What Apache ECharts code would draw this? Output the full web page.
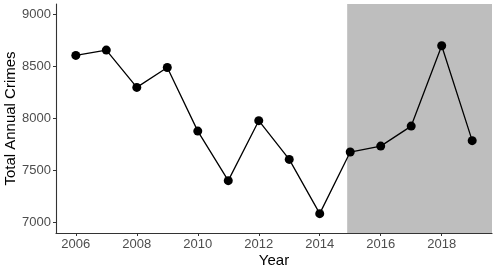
<!DOCTYPE html>
<html>
<head>
<meta charset="utf-8">
<script src="https://cdn.jsdelivr.net/npm/echarts@6/dist/echarts.min.js"></script>
<style>
html,body{margin:0;padding:0;background:#fff;}
#chart{width:498px;height:269px;}
</style>
</head>
<body>
<div id="chart"></div>
<script>
// Data
const years = [2006, 2007, 2008, 2009, 2010, 2011, 2012, 2013, 2014, 2015, 2016, 2017, 2018, 2019];
const crimes = [8606, 8657, 8299, 8490, 7879, 7403, 7979, 7607, 7086, 7678, 7735, 7927, 8699, 7787];
const xTicks = [2006, 2008, 2010, 2012, 2014, 2016, 2018];
const yTicks = [7000, 7500, 8000, 8500, 9000];
const shadeRange = [2014.9, 2019.65];
const xRange = [2005.35, 2019.65];
const yRange = [6900, 9100];

const FONT = '"Liberation Sans", Arial, sans-serif';
const chart = echarts.init(document.getElementById('chart'));
chart.setOption({
  animation: false,
  grid: { left: 56, right: 6, top: 4, bottom: 36, containLabel: false, outerBoundsMode: 'none' },
  xAxis: {
    type: 'value', min: xRange[0], max: xRange[1], z: 10,
    name: 'Year', nameLocation: 'middle', nameGap: 20, nameMoveOverlap: false,
    nameTextStyle: { color: '#000', fontSize: 15, fontFamily: FONT },
    splitLine: { show: false },
    axisLine: { show: true, lineStyle: { color: '#333', width: 1.1 } },
    axisTick: { show: true, length: 3, customValues: xTicks, lineStyle: { color: '#333' } },
    axisLabel: { customValues: xTicks, color: '#4D4D4D', fontSize: 13, fontFamily: FONT, margin: 5, formatter: v => String(v) }
  },
  yAxis: {
    type: 'value', min: yRange[0], max: yRange[1], z: 10,
    name: 'Total Annual Crimes', nameLocation: 'middle', nameGap: 38, nameMoveOverlap: false,
    nameTextStyle: { color: '#000', fontSize: 15, fontFamily: FONT },
    splitLine: { show: false },
    axisLine: { show: true, lineStyle: { color: '#333', width: 1.1 } },
    axisTick: { show: true, length: 3, customValues: yTicks, lineStyle: { color: '#333' } },
    axisLabel: { customValues: yTicks, color: '#4D4D4D', fontSize: 13, fontFamily: FONT, margin: 5, formatter: v => String(v) }
  },
  series: [
    {
      type: 'line', data: [], z: 1, silent: true,
      markArea: {
        silent: true,
        itemStyle: { color: '#BEBEBE', opacity: 1 },
        data: [[{ xAxis: shadeRange[0] }, { xAxis: shadeRange[1] }]]
      }
    },
    {
      type: 'line', z: 5,
      data: years.map((y, i) => [y, crimes[i]]),
      symbol: 'circle', symbolSize: 9,
      itemStyle: { color: '#000' },
      lineStyle: { color: '#000', width: 1.3 }
    }
  ]
});
</script>
</body>
</html>
